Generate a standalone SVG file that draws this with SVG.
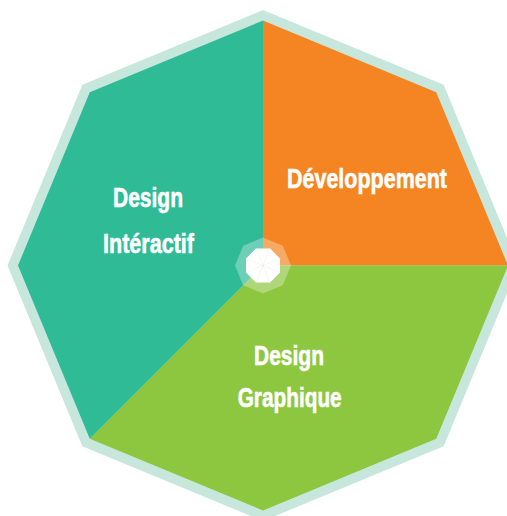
<svg xmlns="http://www.w3.org/2000/svg" width="507" height="516" viewBox="0 0 507 516">
<style>
.lbl{font-family:"Liberation Sans",Arial,sans-serif;font-weight:bold;fill:#ffffff;stroke:#ffffff;stroke-width:0.6;text-anchor:middle}
.spoke{stroke:#e4e6d2;stroke-width:0.7;stroke-dasharray:1 1}
</style>
<rect width="507" height="516" fill="#ffffff"/>
<g id="frame">
<polygon points="263,10 443.66,84.84 518.5,265.5 443.66,446.16 263,521 82.34,446.16 7.5,265.5 82.34,84.84" fill="#c8e7dc"/>
</g>
<g id="developpement">
<path d="M263,265.5 L263,20.5 L436.24,92.26 L508,265.5 Z" fill="#f58522"/>
<text class="lbl" x="367" y="188" font-size="27" textLength="160" lengthAdjust="spacingAndGlyphs">Développement</text>
</g>
<g id="design-graphique">
<path d="M263,265.5 L508,265.5 L436.24,438.74 L263,510.5 L89.76,438.74 Z" fill="#8dc63f"/>
<text class="lbl" x="289" y="365" font-size="28" textLength="70" lengthAdjust="spacingAndGlyphs">Design</text>
<text class="lbl" x="289.7" y="406.7" font-size="28" textLength="104" lengthAdjust="spacingAndGlyphs">Graphique</text>
</g>
<g id="design-interactif">
<path d="M263,265.5 L89.76,438.74 L18,265.5 L89.76,92.26 L263,20.5 Z" fill="#30bb97"/>
<text class="lbl" x="148" y="206.7" font-size="28" textLength="70" lengthAdjust="spacingAndGlyphs">Design</text>
<text class="lbl" x="148.5" y="253" font-size="28" textLength="91" lengthAdjust="spacingAndGlyphs">Intéractif</text>
</g>
<g id="hub">
<polygon points="263,237.5 282.8,245.7 291,265.5 282.8,285.3 263,293.5 243.2,285.3 235,265.5 243.2,245.7" fill="#ffffff" fill-opacity="0.3"/>
<polygon points="280,258.46 270.04,248.5 255.96,248.5 246,258.46 246,272.54 255.96,282.5 270.04,282.5 280,272.54" fill="#ffffff"/>
</g>
<g id="connectors">
<line class="spoke" x1="263" y1="265.5" x2="280" y2="258.46"/>
<line class="spoke" x1="263" y1="265.5" x2="270.04" y2="248.5"/>
<line class="spoke" x1="263" y1="265.5" x2="255.96" y2="248.5"/>
<line class="spoke" x1="263" y1="265.5" x2="246" y2="258.46"/>
<line class="spoke" x1="263" y1="265.5" x2="246" y2="272.54"/>
<line class="spoke" x1="263" y1="265.5" x2="255.96" y2="282.5"/>
<line class="spoke" x1="263" y1="265.5" x2="270.04" y2="282.5"/>
<line class="spoke" x1="263" y1="265.5" x2="280" y2="272.54"/>
</g>
</svg>
